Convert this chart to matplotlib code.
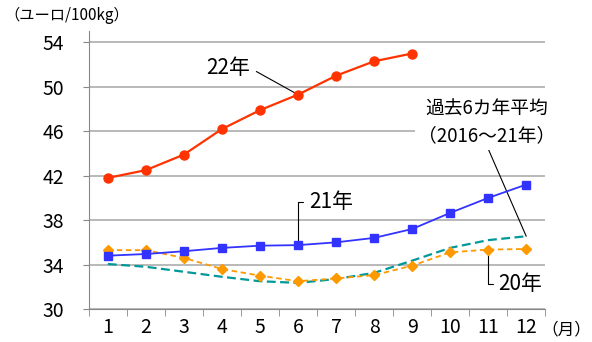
import numpy as np
import matplotlib
matplotlib.use("Agg")
import matplotlib.pyplot as plt

plt.rcParams['font.family'] = ['Noto Sans CJK JP', 'DejaVu Sans']

#data (euro/100kg)
months = np.arange(1, 13)
month_labels = [str(m) for m in months]
y22 = [41.8, 42.5, 43.9, 46.2, 47.9, 49.3, 51.0, 52.3, 53.0]
y21 = [34.8, 34.95, 35.2, 35.5, 35.7, 35.75, 36.0, 36.4, 37.2, 38.65, 40.0, 41.2]
y20 = [35.3, 35.3, 34.6, 33.6, 33.0, 32.5, 32.75, 33.05, 33.9, 35.1, 35.35, 35.4]
yavg = [34.05, 33.8, 33.35, 32.9, 32.5, 32.35, 32.7, 33.25, 34.35, 35.5, 36.2, 36.55]
yticks = [30, 34, 38, 42, 46, 50, 54]

fig = plt.figure(figsize=(5.92, 3.42), dpi=100)
ax = fig.add_axes([0.150, 0.0965, 0.771, 0.812])

#lines
ax.plot(months, yavg, color='#009999', lw=1.6, ls=(0, (4, 2)), zorder=3)
ax.plot(months, y20, color='#FF9900', lw=1.3, ls=(0, (3, 2)), marker='D', ms=5.5, zorder=4)
ax.plot(months, y21, color='#3333FF', lw=1.3, marker='s', ms=6, zorder=5)
ax.plot(months[:len(y22)], y22, color='#FF3300', lw=1.6, marker='o', ms=6.5, zorder=6)

#axes
ax.set_xlim(0.5, 12.5)
ax.set_ylim(30, 55)
ax.set_yticks(yticks)
ax.set_xticks(months)
ax.set_xticklabels(month_labels)
ax.set_xticks(np.arange(0.5, 13, 1), minor=True)
ax.tick_params(axis='x', which='major', length=0, pad=6, labelsize=14)
ax.tick_params(axis='x', which='minor', length=5, color='#888888', direction='out')
ax.tick_params(axis='y', length=4, color='#888888', pad=14, labelsize=14)
ax.grid(axis='y', color='#a6a6a6', lw=1.1)
ax.set_axisbelow(True)
for s in ['top', 'right']:
    ax.spines[s].set_visible(False)
for s in ['left', 'bottom']:
    ax.spines[s].set_color('#888888')

#labels
fig.text(0.008, 0.955, '（ユーロ/100kg）', fontsize=11, va='center', ha='left')
fig.text(0.998, 0.035, '（月）', fontsize=12, va='center', ha='right')

#annotations
ax.annotate('22年', xy=(6, y22[5]), xytext=(4.16, 51.7), fontsize=15,
            ha='center', va='center',
            arrowprops=dict(arrowstyle='-', color='black', lw=0.8, relpos=(1, 0.5),
                            shrinkA=3, shrinkB=0))
ax.annotate('21年', xy=(6, y21[5]), xytext=(6.86, 39.64), fontsize=15,
            ha='center', va='center',
            arrowprops=dict(arrowstyle='-', color='black', lw=0.8, relpos=(0, 0.5),
                            connectionstyle='angle,angleA=0,angleB=90,rad=0',
                            shrinkA=2, shrinkB=0))
ax.annotate('20年', xy=(11, y20[10]), xytext=(11.84, 32.25), fontsize=15,
            ha='center', va='center',
            arrowprops=dict(arrowstyle='-', color='black', lw=0.8, relpos=(0, 0.5),
                            connectionstyle='angle,angleA=0,angleB=90,rad=0',
                            shrinkA=2, shrinkB=3))
ax.annotate('過去6カ年平均\n（2016～21年）', xy=(12, yavg[11]), xytext=(10.97, 46.8),
            fontsize=13.5, ha='center', va='center', linespacing=1.35,
            bbox=dict(boxstyle='square,pad=0.2', fc='white', ec='none'),
            arrowprops=dict(arrowstyle='-', color='black', lw=0.8, relpos=(0.5, 0),
                            shrinkA=0, shrinkB=0))

fig.savefig('out.png', dpi=100)
